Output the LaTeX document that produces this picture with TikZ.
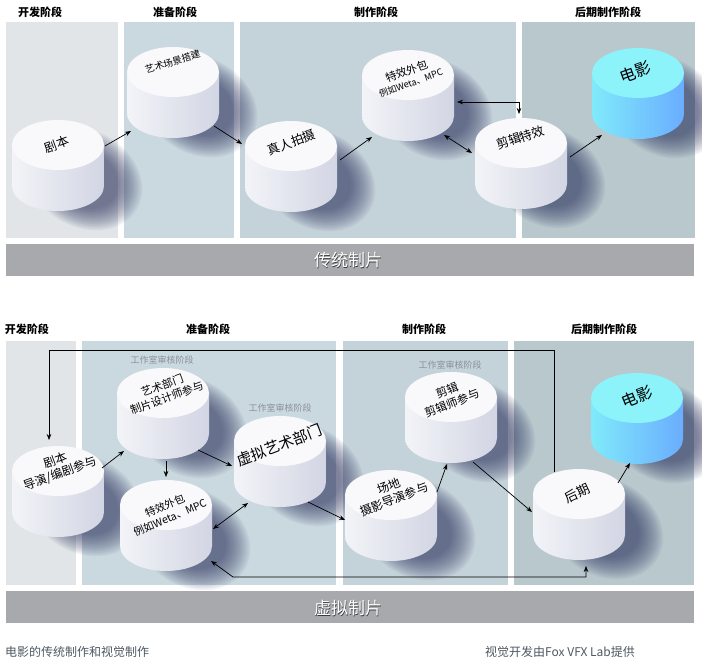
\documentclass[tikz,border=0pt]{standalone}
\usepackage{fontspec}
\usepackage{graphicx}
\setmainfont{Noto Sans CJK SC}
\usetikzlibrary{arrows.meta,calc}
\definecolor{devc}{HTML}{E1E5E7}
\definecolor{prepc}{HTML}{CAD8DF}
\definecolor{prodc}{HTML}{C4D2D9}
\definecolor{postc}{HTML}{B8C8CD}
\definecolor{barc}{HTML}{A8A9AD}
\definecolor{shadc}{HTML}{262C5A}
\definecolor{wL}{HTML}{F3F4F8}
\definecolor{wR}{HTML}{D2D5E3}
\definecolor{wT}{HTML}{F9F9FB}
\definecolor{cL}{HTML}{80EAFA}
\definecolor{cR}{HTML}{6AADFF}
\definecolor{cT}{HTML}{8BF3F9}
\definecolor{capc}{HTML}{4E5862}
\definecolor{revc}{HTML}{8A9199}
\definecolor{outc}{HTML}{3C3C3C}

\newcommand{\cylshadow}[2]{%
  \begin{scope}[shift={(#1+27,-#2-34)},rotate=-30]
    \foreach \s in {1.0,0.97,0.94,0.91,0.88,0.85,0.82,0.79,0.76,0.73,0.70,0.67,0.64,0.61,0.58}
      \fill[shadc,opacity=0.055] (0,0) ellipse[x radius=60*\s, y radius=48*\s];
  \end{scope}}
\newcommand{\cylbody}[4]{%
  \shade[left color=#4L, right color=#4R] (#2-46,-#3) -- (#2-46,-#3-41)
    arc[start angle=180,end angle=360,x radius=46,y radius=25] -- (#2+46,-#3) -- cycle;
  \fill[#4T] (#2,-#3) ellipse[x radius=46,y radius=25];
  \node[inner sep=0pt,minimum size=0pt] (#1) at (#2,-#3) {};}
\newcommand{\outlined}[4]{%
  \node[bartext,text=outc] (#1s) at ($(#2,#3)+(0.6,-0.6)$) {#4};
  \node[bartext,text=white] (#1) at (#2,#3) {#4};}
\newcommand{\rottext}[2]{\rotatebox{#1}{\begin{tabular}{@{}c@{}}#2\end{tabular}}}

\begin{document}
\begin{tikzpicture}[x=1pt,y=1pt,
  hdr/.style={font=\bfseries\fontsize{11}{13}\selectfont,inner sep=0pt},
  bartext/.style={font=\fontsize{17}{19}\selectfont,inner sep=0pt},
  ct/.style={inner sep=0pt,text=black},
  rev/.style={font=\fontsize{9}{11}\selectfont,text=revc,inner sep=0pt},
  captext/.style={font=\fontsize{12}{14}\selectfont,text=capc,inner sep=0pt,anchor=west},
  conn/.style={-{Stealth[length=6pt,width=4.6pt]},line width=0.7pt,black},
  dconn/.style={{Stealth[length=6pt,width=4.6pt]}-{Stealth[length=6pt,width=4.6pt]},line width=0.7pt,black}]
\useasboundingbox (0,0) rectangle (702,-663);
\fill[white] (0,0) rectangle (702,-663);

% ---------- top section ----------
\node[hdr] (h1) at (40,-12) {开发阶段};
\node[hdr] (h2) at (175,-12) {准备阶段};
\node[hdr] (h3) at (376,-12) {制作阶段};
\node[hdr] (h4) at (608,-12) {后期制作阶段};
\fill[devc] (6,-22) rectangle (118,-238);
\fill[prepc] (124,-22) rectangle (234,-238);
\fill[prodc] (240,-22) rectangle (516,-238);
\fill[postc] (522,-22) rectangle (695,-238);
\fill[barc] (6,-244) rectangle (694,-276);
\outlined{bar1}{348}{-260}{传统制片}

% ---------- bottom section ----------
\node[hdr] (g1) at (27,-329) {开发阶段};
\node[hdr] (g2) at (208,-329) {准备阶段};
\node[hdr] (g3) at (424,-329) {制作阶段};
\node[hdr] (g4) at (604,-329) {后期制作阶段};
\fill[devc] (6,-341) rectangle (76,-585);
\fill[prepc] (82,-341) rectangle (336,-585);
\fill[prodc] (343,-341) rectangle (508,-585);
\fill[postc] (514,-341) rectangle (694,-585);
\fill[barc] (6,-591) rectangle (694,-623);

% shadows
\cylshadow{58}{145}\cylshadow{173}{72}\cylshadow{291}{146}
\cylshadow{408}{75}\cylshadow{521}{143}\cylshadow{638}{73}
\cylshadow{58}{471}\cylshadow{163}{393}\cylshadow{166}{505}\cylshadow{280}{441}
\cylshadow{391}{495}\cylshadow{451}{397}\cylshadow{579}{494}\cylshadow{637}{398}

\outlined{bar2}{348}{-608}{虚拟制片}

% cylinders
\cylbody{A1}{58}{145}{w}
\cylbody{A2}{173}{72}{w}
\cylbody{A3}{291}{146}{w}
\cylbody{A4}{408}{75}{w}
\cylbody{A5}{521}{143}{w}
\cylbody{A6}{638}{73}{c}
\cylbody{B1}{58}{471}{w}
\cylbody{B2}{163}{393}{w}
\cylbody{B3}{166}{505}{w}
\cylbody{B4}{280}{441}{w}
\cylbody{B5}{391}{495}{w}
\cylbody{B6}{451}{397}{w}
\cylbody{B7}{579}{494}{w}
\cylbody{B8}{637}{398}{c}

% top connectors
\draw[conn] ($(A1)+(47,-1)$) -- ($(A2)+(-42,-59)$);
\draw[conn] ($(A2)+(41,-54)$) -- ($(A3)+(-49,2)$);
\draw[conn] ($(A3)+(49,-14)$) -- ($(A4)+(-36,-62)$);
\draw[dconn] ($(A4)+(36,-60)$) -- ($(A5)+(-49,-10)$);
\draw[dconn] ($(A4)+(49,-27)$) -| ($(A5)+(-2,29)$);
\draw[conn] ($(A5)+(49,-14)$) -- ($(A6)+(-36,-62)$);

% bottom connectors
\draw[conn] ($(B1)+(44,3)$) -- ($(B2)+(-39,-58)$);
\draw[conn] ($(B2)+(3,-68)$) -- ($(B3)+(0,28)$);
\draw[conn] ($(B2)+(35,-57)$) -- ($(B4)+(-48,-25)$);
\draw[dconn] ($(B3)+(47,-24)$) -- ($(B4)+(-32,-62)$);
\draw[conn] ($(B4)+(28,-61)$) -- ($(B5)+(-46,-25)$);
\draw[conn] ($(B5)+(46,3)$) -- ($(B6)+(-4,-67)$);
\draw[conn] ($(B6)+(22,-65)$) -- ($(B7)+(-47,-18)$);
\draw[conn] ($(B7)+(39,11)$) -- ($(B8)+(-7,-65)$);
\draw[conn] ($(B7)+(-25,22)$) -- ($(B7)+(-25,144)$) -| ($(B1)+(-9,31)$);
\draw[dconn] ($(B3)+(45,-56)$) -- ($(B3)+(67,-72)$) -| ($(B7)+(7,-72)$);

% review labels
\node[rev] (r1) at (162,-360) {工作室审核阶段};
\node[rev] (r2) at (280,-408) {工作室审核阶段};
\node[rev] (r3) at (450,-365) {工作室审核阶段};

% top cylinder texts
\node[ct,font=\fontsize{12.5}{14}\selectfont] (tA1) at (57,-146) {\rottext{20}{剧本}};
\node[ct,font=\fontsize{9.5}{11}\selectfont] (tA2) at (173,-63) {\rottext{17}{艺术场景搭建}};
\node[ct,font=\fontsize{12.5}{14}\selectfont] (tA3) at (292,-144) {\rottext{20}{真人拍摄}};
\node[ct] (tA4) at (409,-78) {\rottext{20}{{\fontsize{11}{13}\selectfont 特效外包}\\{\fontsize{9}{11}\selectfont 例如Weta、MPC}}};
\node[ct,font=\fontsize{12.5}{14}\selectfont] (tA5) at (521,-139) {\rottext{18}{剪辑特效}};
\node[ct,font=\fontsize{16}{18}\selectfont] (tA6) at (636,-74) {\rottext{20}{电影}};

% bottom cylinder texts
\node[ct,font=\fontsize{12}{14}\selectfont] (tB1) at (58,-468) {\rottext{20}{剧本\\导演/编剧参与}};
\node[ct,font=\fontsize{11}{13}\selectfont] (tB2) at (165,-393) {\rottext{20}{艺术部门\\制片设计师参与}};
\node[ct,font=\fontsize{10.5}{13}\selectfont] (tB3) at (168,-513) {\rottext{23}{特效外包\\例如Weta、MPC}};
\node[ct,font=\fontsize{15}{17}\selectfont] (tB4) at (280,-447) {\rottext{21}{虚拟艺术部门}};
\node[ct,font=\fontsize{12}{14}\selectfont] (tB5) at (392,-494) {\rottext{21}{场地\\摄影导演参与}};
\node[ct,font=\fontsize{11.5}{13.5}\selectfont] (tB6) at (450,-398) {\rottext{21}{剪辑\\剪辑师参与}};
\node[ct,font=\fontsize{13}{15}\selectfont] (tB7) at (578,-495) {\rottext{25}{后期}};
\node[ct,font=\fontsize{16}{18}\selectfont] (tB8) at (638,-399) {\rottext{22}{电影}};

% captions
\node[captext] (c1) at (5,-652) {电影的传统制作和视觉制作};
\node[captext] (c2) at (485,-652) {视觉开发由Fox VFX Lab提供};
\end{tikzpicture}
\end{document}
